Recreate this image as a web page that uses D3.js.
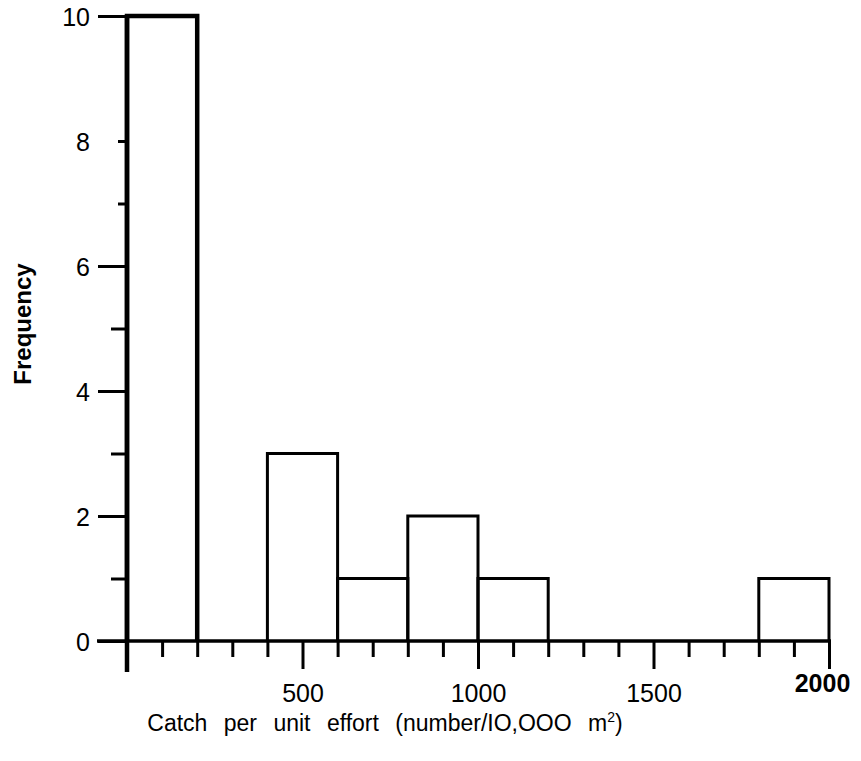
<!DOCTYPE html>
<html>
<head>
<meta charset="utf-8">
<script src="https://cdn.jsdelivr.net/npm/d3@7"></script>
<style>
  body { margin: 0; background: #fff; }
  svg { display: block; font-family: "Liberation Sans", Arial, sans-serif; }
</style>
</head>
<body>
<svg></svg>
<script>
// data (histogram bins, width 200)
const binStart = [0, 200, 400, 600, 800, 1000, 1200, 1400, 1600, 1800];
const binEnd = [200, 400, 600, 800, 1000, 1200, 1400, 1600, 1800, 2000];
const freq = [10, 0, 3, 1, 2, 1, 0, 0, 0, 1];
const xLabels = [500, 1000, 1500, 2000];
const yLabels = [0, 2, 4, 6, 8, 10];
const yTickVals = [0, 1, 2, 3, 4, 5, 6, 7, 8, 10];

// setting
const Width = 861;
const Height = 761;
const svg = d3.select("svg").attr("width", Width).attr("height", Height);

const x = d3.scaleLinear().domain([0, 2000]).range([127, 829]);
const y = d3.scaleLinear().domain([0, 10]).range([641, 16]);

// bars (no fill, black outline)
svg.append("g")
  .selectAll("path")
  .data(freq.map((f, i) => ({ a: binStart[i], b: binEnd[i], f: f })).filter(d => d.f > 0))
  .join("path")
  .attr("d", d => `M${x(d.a)},${y(0)}V${y(d.f)}H${x(d.b)}V${y(0)}`)
  .attr("fill", "none")
  .attr("stroke", "#000")
  .attr("stroke-width", d => d.f >= 10 ? 4.5 : 3);

// x axis, ticks every 100
const xTicks = d3.range(0, 2001, 100);
const xAxis = d3.axisBottom(x)
  .tickValues(xTicks)
  .tickSize(16)
  .tickSizeOuter(0)
  .tickFormat(d => xLabels.includes(d) ? d : "");
const gx = svg.append("g")
  .attr("transform", `translate(0,${y(0)})`)
  .call(xAxis);
gx.select(".domain").remove();
gx.selectAll(".tick line")
  .attr("stroke", "#000")
  .attr("stroke-width", 3)
  .attr("y2", d => (d % 500 === 0) ? 28 : 16);
gx.selectAll(".tick text")
  .attr("y", d => d === 2000 ? 51 : 61)
  .attr("dy", 0)
  .attr("dx", d => d === 2000 ? -7 : 0)
  .attr("fill", "#000")
  .style("font-size", "25px")
  .style("font-weight", d => d === 2000 ? "bold" : "normal");
svg.append("line")
  .attr("x1", x(0) - 30).attr("x2", x(2000) + 2)
  .attr("y1", y(0)).attr("y2", y(0))
  .attr("stroke", "#000").attr("stroke-width", 3.5);

// y axis, ticks every 1
const yAxis = d3.axisLeft(y)
  .tickValues(yTickVals)
  .tickSize(16)
  .tickSizeOuter(0)
  .tickFormat(d => yLabels.includes(d) ? d : "");
const gy = svg.append("g")
  .attr("transform", `translate(${x(0)},0)`)
  .call(yAxis);
gy.select(".domain").remove();
gy.selectAll(".tick line")
  .attr("stroke", "#000")
  .attr("stroke-width", 3)
  .attr("x2", d => d === 8 || d === 7 ? -9 : (d % 2 === 0 ? -29 : -16));
gy.selectAll(".tick text")
  .attr("x", -37)
  .attr("dy", "0.36em")
  .attr("fill", "#000")
  .style("font-size", "25px");
svg.append("line")
  .attr("x1", x(0)).attr("x2", x(0))
  .attr("y1", y(10)).attr("y2", y(0) + 31)
  .attr("stroke", "#000").attr("stroke-width", 4.5);

// axis titles
svg.append("text")
  .attr("x", 385)
  .attr("y", 731)
  .attr("text-anchor", "middle")
  .style("font-size", "23px")
  .style("word-spacing", "10px")
  .html("Catch per unit effort (number/IO,OOO m<tspan dy='-9' font-size='14'>2</tspan><tspan dy='9'>)</tspan>");

svg.append("text")
  .attr("transform", "translate(31,324) rotate(-90)")
  .attr("text-anchor", "middle")
  .style("font-size", "24px")
  .style("font-weight", "bold")
  .text("Frequency");
</script>
</body>
</html>
